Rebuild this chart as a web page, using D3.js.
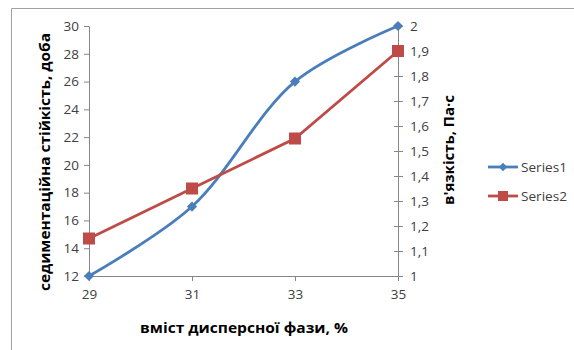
<!DOCTYPE html>
<html><head><meta charset="utf-8">
<script src="https://cdn.jsdelivr.net/npm/d3@7"></script>
<style>
body{margin:0;background:#fff;}
svg text{font-family:"Open Sans",Lato,sans-serif;}
</style></head>
<body><svg id="c" width="574" height="350"></svg>
<script>
// dispersed phase content, %
const categories = [29, 31, 33, 35];
// sedimentation stability, days (left axis)
const series1 = [12, 17, 26, 30];
// viscosity, Pa·s (right axis)
const series2 = [1.15, 1.35, 1.55, 1.9];
const leftTicks = [12, 14, 16, 18, 20, 22, 24, 26, 28, 30];
const rightTicks = [1, 1.1, 1.2, 1.3, 1.4, 1.5, 1.6, 1.7, 1.8, 1.9, 2];
const seriesNames = ["Series1", "Series2"];

const svg = d3.select("#c");
const blue = "#4A7EBB", red = "#BE4B48", axisCol = "#868686", txt = "#404040";

// frame
svg.append("path").attr("d", "M11.5,350 V8.5 H574").attr("fill", "none").attr("stroke", "#a0a0a0");

const x = d3.scaleLinear().domain([29, 35]).range([89, 398]);
const yL = d3.scaleLinear().domain([12, 30]).range([276, 26]);
const yR = d3.scaleLinear().domain([1, 2]).range([276, 26]);

const fmtR = d => d3.format(".1~f")(d).replace(".", ",");

function styleAxis(g) {
  g.selectAll("path,line").attr("stroke", axisCol);
  g.selectAll("text").attr("fill", txt).style("font-size", "13.5px");
}

svg.append("g").attr("transform", "translate(89,0)")
  .call(d3.axisLeft(yL).tickValues(leftTicks).tickSize(5).tickSizeOuter(0).tickPadding(5))
  .call(styleAxis);

const gr = svg.append("g").attr("transform", "translate(398,0)")
  .call(d3.axisRight(yR).tickValues(rightTicks).tickFormat(fmtR).tickSize(5).tickSizeOuter(0).tickPadding(7))
  .call(styleAxis);
gr.selectAll(".tick line").attr("x1", -4);

svg.append("g").attr("transform", "translate(0,276)")
  .call(d3.axisBottom(x).tickValues(categories).tickFormat(d3.format("d")).tickSize(5).tickSizeOuter(0).tickPadding(8))
  .call(styleAxis);

// series 1 – smoothed line with diamond markers
svg.append("path").datum(categories.map((c, i) => [x(c), yL(series1[i])]))
  .attr("d", d3.line().curve(d3.curveCatmullRom.alpha(0.5)))
  .attr("fill", "none").attr("stroke", blue).attr("stroke-width", 2.8);
// series 2 – straight line with square markers
svg.append("path").datum(categories.map((c, i) => [x(c), yR(series2[i])]))
  .attr("d", d3.line())
  .attr("fill", "none").attr("stroke", red).attr("stroke-width", 2.8);

svg.selectAll(".m1").data(categories).join("path")
  .attr("transform", (c, i) => `translate(${x(c)},${yL(series1[i])}) rotate(45)`)
  .attr("d", d3.symbol().type(d3.symbolSquare).size(52)).attr("fill", blue);
svg.selectAll(".m2").data(categories).join("rect")
  .attr("x", (c) => x(c) - 6).attr("y", (c, i) => yR(series2[i]) - 6)
  .attr("width", 12).attr("height", 12).attr("fill", red);

// axis titles
svg.append("text").attr("transform", "translate(50,162) rotate(-90)")
  .attr("text-anchor", "middle").style("font-size", "14.5px").style("font-weight", "bold").attr("fill", "#000")
  .attr("textLength", 258).attr("lengthAdjust", "spacingAndGlyphs")
  .text("седиментаційна стійкість, доба");
svg.append("text").attr("transform", "translate(454,150) rotate(-90)")
  .attr("text-anchor", "middle").style("font-size", "13.5px").style("font-weight", "bold").attr("fill", "#000")
  .attr("textLength", 110).attr("lengthAdjust", "spacingAndGlyphs")
  .text("в'язкість, Па·с");
svg.append("text").attr("x", 244).attr("y", 333)
  .attr("text-anchor", "middle").style("font-size", "14.5px").style("font-weight", "bold").attr("fill", "#000")
  .attr("textLength", 208).attr("lengthAdjust", "spacingAndGlyphs")
  .text("вміст дисперсної фази, %");

// legend
const lg = svg.append("g");
const ly = [167, 196];
[blue, red].forEach((col, i) => {
  lg.append("line").attr("x1", 488).attr("x2", 518).attr("y1", ly[i]).attr("y2", ly[i])
    .attr("stroke", col).attr("stroke-width", 2.8);
  if (i === 0) {
    lg.append("path").attr("transform", `translate(503,${ly[i]}) rotate(45)`)
      .attr("d", d3.symbol().type(d3.symbolSquare).size(36)).attr("fill", col);
  } else {
    lg.append("rect").attr("x", 498).attr("y", ly[i] - 5).attr("width", 10).attr("height", 10).attr("fill", col);
  }
  lg.append("text").attr("x", 521).attr("y", ly[i] + 5).style("font-size", "13px").attr("fill", txt)
    .attr("textLength", 46).attr("lengthAdjust", "spacingAndGlyphs")
    .text(seriesNames[i]);
});
</script></body></html>
